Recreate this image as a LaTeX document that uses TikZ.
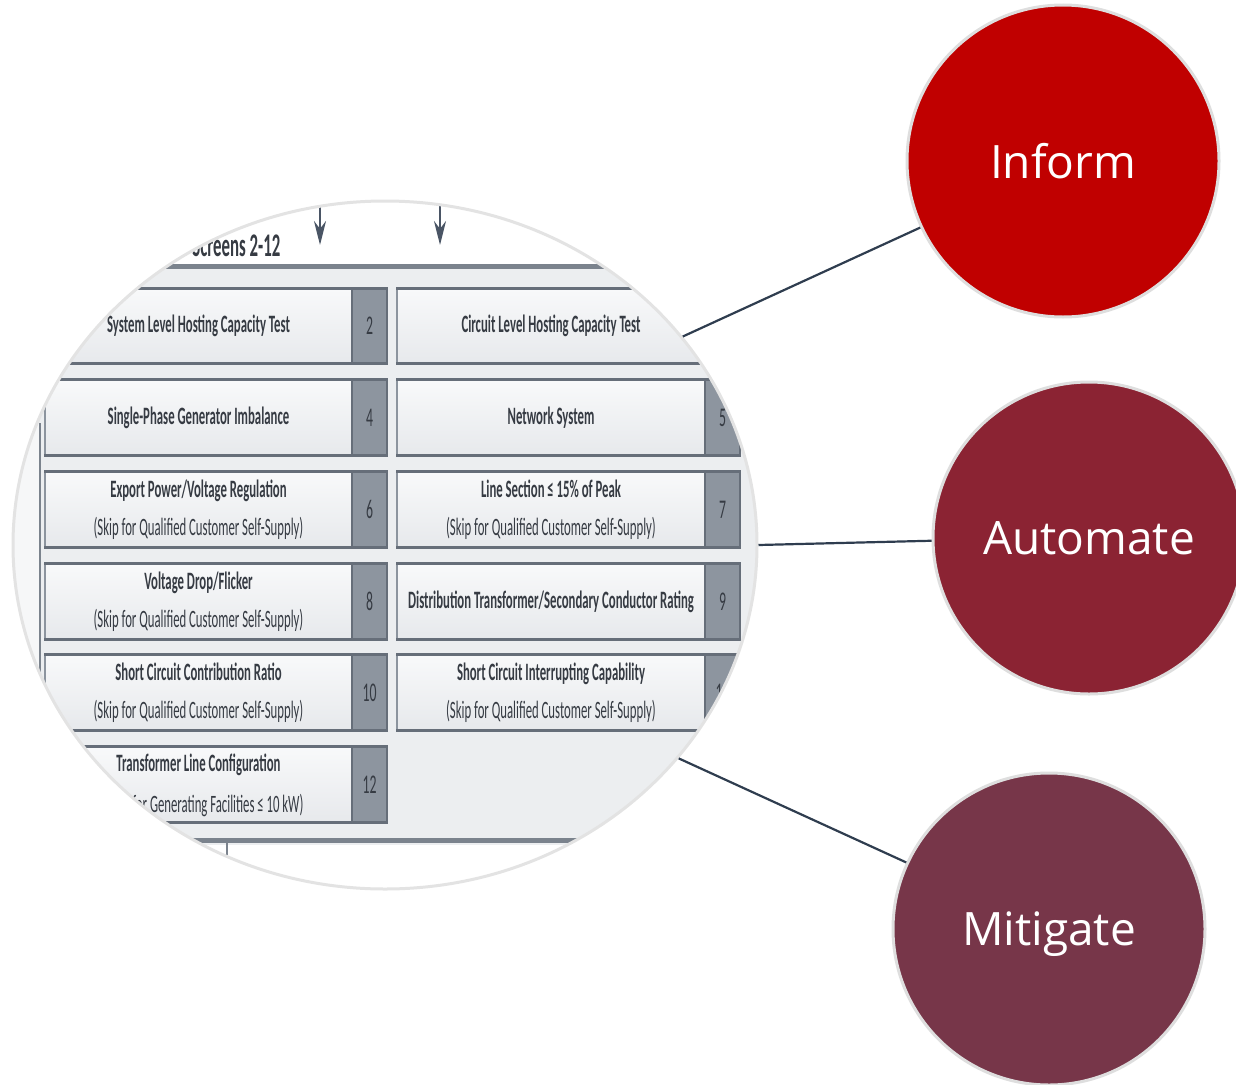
\documentclass[tikz,border=0pt]{standalone}
\usepackage{fontspec}
\usetikzlibrary{shapes.geometric,arrows.meta}
\newfontfamily\cond[FakeStretch=0.51]{Carlito}
\newfontfamily\circfont{Open Sans}
\definecolor{informc}{HTML}{C00000}
\definecolor{automc}{HTML}{8B2333}
\definecolor{mitigc}{HTML}{773649}
\definecolor{linkc}{HTML}{2F3D4F}
\definecolor{ringc}{HTML}{DEDEDE}
\definecolor{lensedge}{HTML}{E3E3E3}
\definecolor{bgc}{HTML}{ECEEF0}
\definecolor{boxtop}{HTML}{F8F9FA}
\definecolor{boxbot}{HTML}{E7E9EC}
\definecolor{edgec}{HTML}{8C949E}
\definecolor{darkedge}{HTML}{666E79}
\definecolor{numc}{HTML}{8D959F}
\definecolor{txtc}{HTML}{363B43}
\definecolor{arrc}{HTML}{4A5565}
\definecolor{bandc}{HTML}{7B838D}
\begin{document}
\begin{tikzpicture}[x=1pt,y=-1pt,
  lens/.style={ellipse, draw=lensedge, line width=3, minimum width=744, minimum height=688, inner sep=0},
  bubble/.style={circle, minimum size=312, inner sep=0, draw=ringc, line width=3, text=white,
    text depth=0pt, font=\circfont\fontsize{46}{50}\selectfont},
  link/.style={linkc, line width=2.2},
  cell/.style={draw=edgec, line width=1.2, top color=boxtop, bottom color=boxbot, minimum height=74,
    inner sep=0, align=center, text=txtc, font=\cond\fontsize{25}{38}\selectfont},
  lcell/.style={cell, minimum width=307},
  rcell/.style={cell, minimum width=308},
  numcell/.style={draw=darkedge, line width=1.2, fill=numc, minimum width=35, minimum height=74,
    inner sep=0, text=txtc, font=\cond\fontsize{27}{30}\selectfont},
  btnedge/.style={darkedge, line width=3},
  scrarrow/.style={arrc, line width=2.5, -{Stealth[length=24pt,width=12pt]}},
]
\useasboundingbox (0,0) rectangle (1236,1084);

\begin{scope}
  \clip (385,545) ellipse [x radius=372, y radius=344];
  \fill[bgc] (0,190) rectangle (790,900);
  \fill[white] (0,190) rectangle (790,264);
  \fill[white] (0,845) rectangle (790,900);
  \fill[white!55!bgc] (0,423) rectangle (40,845);
  \draw[bandc, line width=5] (0,266) -- (790,266);
  \draw[bandc, line width=5] (0,840) -- (790,840);
  \draw[bandc, line width=2] (40,423) -- (40,840);
  \draw[bandc, line width=2] (227,842) -- (227,900);

  \coordinate (a1s) at (320,195);
  \coordinate (a1e) at (320,245);
  \coordinate (a2s) at (440,195);
  \coordinate (a2e) at (440,245);
  \draw[scrarrow] (a1s) -- (a1e);
  \draw[scrarrow] (a2s) -- (a2e);

  \node[anchor=base east, text=txtc, font=\cond\bfseries\fontsize{33}{34}\selectfont] (scr) at (284,256) {Screens 2-12};

  % row 1
  \node[lcell] (b2) at (198.5,326) {\textbf{System Level Hosting Capacity Test}};
  \node[numcell] (n2) at (369.5,326) {2};
  \node[rcell] (b3) at (551,326) {\textbf{Circuit Level Hosting Capacity Test}};
  \node[numcell] (n3) at (722.5,326) {};
  % row 2
  \node[lcell] (b4) at (198.5,417.5) {\textbf{Single-Phase Generator Imbalance}};
  \node[numcell] (n4) at (369.5,417.5) {4};
  \node[rcell] (b5) at (551,417.5) {\textbf{Network System}};
  \node[numcell] (n5) at (722.5,417.5) {5};
  % row 3
  \node[lcell] (b6) at (198.5,509.5) {\textbf{Export Power/Voltage Regulation}\\(Skip for Qualified Customer Self-Supply)};
  \node[numcell] (n6) at (369.5,509.5) {6};
  \node[rcell] (b7) at (551,509.5) {\textbf{Line Section ≤ 15\% of Peak}\\(Skip for Qualified Customer Self-Supply)};
  \node[numcell] (n7) at (722.5,509.5) {7};
  % row 4
  \node[lcell] (b8) at (198.5,601.5) {\textbf{Voltage Drop/Flicker}\\(Skip for Qualified Customer Self-Supply)};
  \node[numcell] (n8) at (369.5,601.5) {8};
  \node[rcell] (b9) at (551,601.5) {\textbf{Distribution Transformer/Secondary Conductor Rating}};
  \node[numcell] (n9) at (722.5,601.5) {9};
  % row 5
  \node[lcell] (b10) at (198.5,692.5) {\textbf{Short Circuit Contribution Ratio}\\(Skip for Qualified Customer Self-Supply)};
  \node[numcell] (n10) at (369.5,692.5) {10};
  \node[rcell] (b11) at (551,692.5) {\textbf{Short Circuit Interrupting Capability}\\(Skip for Qualified Customer Self-Supply)};
  \node[numcell] (n11) at (722.5,692.5) {11};
  % row 6
  \node[lcell] (b12) at (198.5,784.5) {};
  \node[numcell] (n12) at (369.5,784.5) {12};
  \node[anchor=center, text=txtc, font=\cond\bfseries\fontsize{25}{28}\selectfont] (t12a) at (198.5,765) {Transformer Line Configuration};
  \node[anchor=base east, text=txtc, font=\cond\fontsize{25}{28}\selectfont] (t12b) at (307,812) {for Generating Facilities ≤ 10 kW)};

  \foreach \i in {2,...,12}{
    \draw[btnedge] (b\i.north west) -- (n\i.north east);
    \draw[btnedge] (b\i.south west) -- (n\i.south east);
  }
\end{scope}

\node[lens] (lens) at (385,545) {};

\node[bubble, fill=informc] (inform) at (1063,161) {Inform};
\node[bubble, fill=automc] (automate) at (1089,538) {Automate};
\node[bubble, fill=mitigc] (mitigate) at (1049,929) {Mitigate};

\draw[link] (lens.35) -- (inform.205);
\draw[link] (lens.0) -- (automate.181);
\draw[link] (lens.324) -- (mitigate.155);
\end{tikzpicture}
\end{document}
